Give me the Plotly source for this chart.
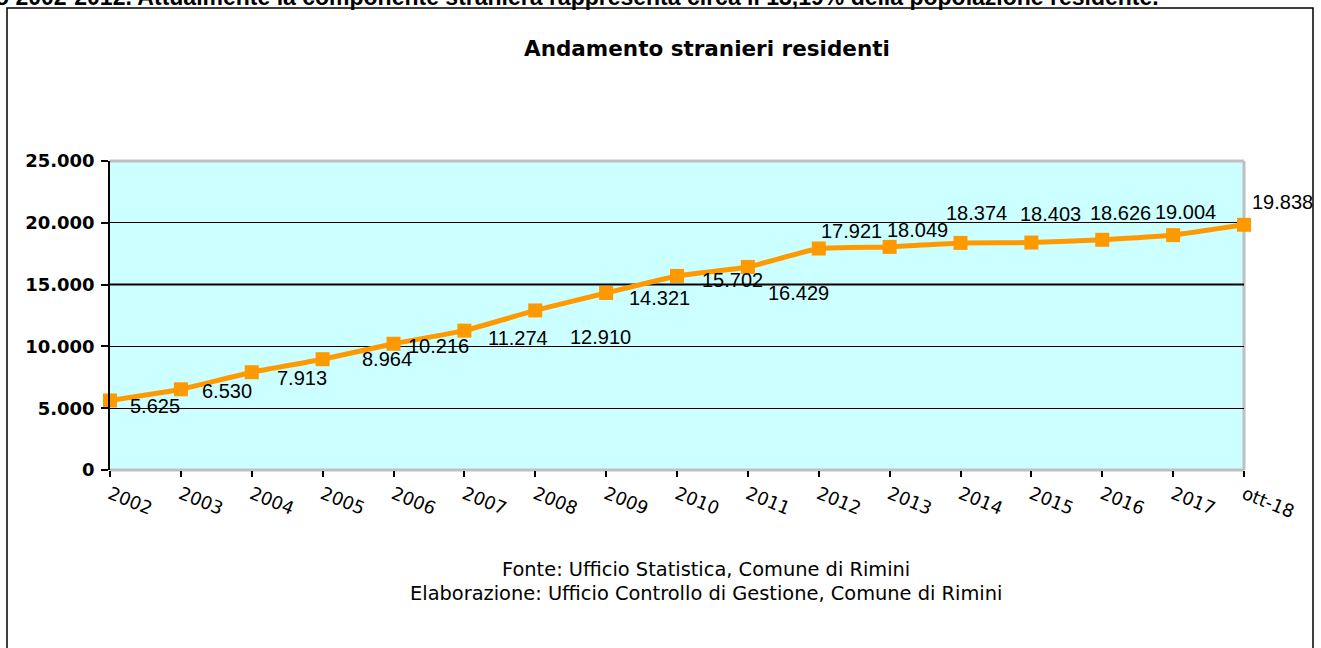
import plotly.graph_objects as go

# ---- data ----
categories = ["2002", "2003", "2004", "2005", "2006", "2007", "2008", "2009", "2010",
              "2011", "2012", "2013", "2014", "2015", "2016", "2017", "ott-18"]
residents = [5625, 6530, 7913, 8964, 10216, 11274, 12910, 14321, 15702,
             16429, 17921, 18049, 18374, 18403, 18626, 19004, 19838]
value_labels = ["5.625", "6.530", "7.913", "8.964", "10.216", "11.274", "12.910", "14.321", "15.702",
                "16.429", "17.921", "18.049", "18.374", "18.403", "18.626", "19.004", "19.838"]
y_tick_values = [0, 5000, 10000, 15000, 20000, 25000]
y_tick_labels = ["0", "5.000", "10.000", "15.000", "20.000", "25.000"]

# label placement (pixel offsets of each data label centre from its point)
label_dx = [45, 46, 50, 64, 45, 54, 65, 53, 55, 51, 33, 28, 16, 19, 18, 12, 38]
label_dy = [-6, -2, -6, 0, -2, -7, -27, -5, -4, -26, 18, 17, 30, 29, 27, 23, 23]

W, H = 1321, 648
L, R, T, B = 110, 1244, 161, 470


def px(x):
    return (x - L) / (R - L)


def py(y):
    return (B - y) / (B - T)


ORANGE = "#FF9900"
GRAY = "#BFBFBF"

fig = go.Figure()
fig.add_trace(go.Scatter(
    x=categories, y=residents, mode="lines+markers",
    line=dict(color=ORANGE, width=5, shape="spline", smoothing=0.4),
    marker=dict(symbol="square", size=14, color=ORANGE),
    hoverinfo="skip", showlegend=False, cliponaxis=False,
))

annotations = []
for i, (v, t, dx, dy) in enumerate(zip(residents, value_labels, label_dx, label_dy)):
    annotations.append(dict(
        x=i, y=v, xref="x", yref="y", text=t, showarrow=False,
        xshift=dx, yshift=dy, xanchor="center", yanchor="middle",
        font=dict(family="Liberation Sans, Arial", size=20, color="black"),
    ))

annotations += [
    dict(x=px(707), y=py(48), xref="paper", yref="paper",
         text="<b>Andamento stranieri residenti</b>", showarrow=False,
         xanchor="center", yanchor="middle",
         font=dict(family="DejaVu Sans", size=21.5, color="black")),
    dict(x=px(706), y=py(569), xref="paper", yref="paper",
         text="Fonte: Ufficio Statistica, Comune di Rimini", showarrow=False,
         xanchor="center", yanchor="middle",
         font=dict(family="DejaVu Sans", size=19.4, color="black")),
    dict(x=px(706), y=py(593), xref="paper", yref="paper",
         text="Elaborazione: Ufficio Controllo di Gestione, Comune di Rimini", showarrow=False,
         xanchor="center", yanchor="middle",
         font=dict(family="DejaVu Sans", size=19.4, color="black")),
    dict(x=px(-7), y=py(-3), xref="paper", yref="paper",
         text="<b>o 2002-2012. Attualmente la componente straniera rappresenta circa il 13,19% della popolazione residente.</b>",
         showarrow=False, xanchor="left", yanchor="middle",
         font=dict(family="Liberation Sans, Arial", size=23, color="black")),
]

shapes = [
    # outer frame
    dict(type="rect", xref="paper", yref="paper",
         x0=px(7), x1=px(1313), y0=py(8), y1=py(690),
         line=dict(color="black", width=1.5), fillcolor="rgba(0,0,0,0)", layer="below"),
    # plot area border (grey top/right/bottom)
    dict(type="line", xref="paper", yref="paper", x0=0, x1=1, y0=1, y1=1,
         line=dict(color=GRAY, width=3)),
    dict(type="line", xref="paper", yref="paper", x0=1, x1=1, y0=0, y1=1,
         line=dict(color=GRAY, width=3), layer="below"),
    dict(type="line", xref="paper", yref="paper", x0=0, x1=1, y0=0, y1=0,
         line=dict(color=GRAY, width=3), layer="below"),
    # stronger 15.000 gridline
    dict(type="line", xref="paper", yref="y", x0=0, x1=1, y0=15000, y1=15000,
         line=dict(color="black", width=2), layer="below"),
]

fig.update_layout(
    width=W, height=H,
    margin=dict(l=L, r=W - R, t=T, b=H - B, pad=0),
    paper_bgcolor="white", plot_bgcolor="#CCFFFF",
    annotations=annotations, shapes=shapes,
    font=dict(family="DejaVu Sans", color="black"),
)
fig.update_xaxes(
    type="category", range=[0, len(categories) - 1],
    showgrid=False, showline=False, zeroline=False,
    ticks="outside", ticklen=6, tickcolor="black", tickwidth=1.5,
    tickangle=22,
    tickfont=dict(family="DejaVu Sans", size=18, color="black"),
)
fig.update_yaxes(
    range=[0, 25000], tickvals=y_tick_values, ticktext=y_tick_labels,
    showgrid=True, gridcolor="black", gridwidth=1,
    showline=True, linecolor="black", linewidth=1.5, zeroline=False,
    ticks="outside", ticklen=7, tickcolor="black", tickwidth=1.5,
    tickfont=dict(family="DejaVu Sans", size=18, color="black", weight="bold"),
    ticklabelstandoff=3,
)

fig.write_html(
    "out.html",
    config={"displayModeBar": False},
    post_script="document.body.style.margin='0';document.body.style.overflow='hidden';",
)
